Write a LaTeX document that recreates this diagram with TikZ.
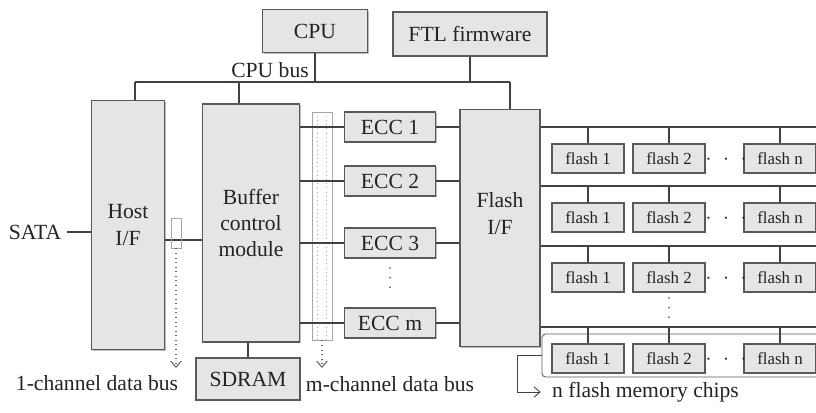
\documentclass[tikz,border=0pt]{standalone}
\usepackage{fontspec}
\setmainfont{Liberation Serif}
\usetikzlibrary{arrows.meta,shadows}
\definecolor{boxfill}{RGB}{229,229,227}
\definecolor{boxline}{RGB}{88,88,94}
\definecolor{wirec}{RGB}{64,64,74}
\definecolor{inkc}{RGB}{35,35,35}

\begin{document}
\begin{tikzpicture}[x=0.02cm, y=-0.02cm, text=inkc,
    every node/.style={font=\fontsize{12.3}{15}\selectfont},
    blk/.style={draw=boxline, fill=boxfill, line width=0.8pt, align=center, inner sep=1pt,
      drop shadow={shadow xshift=0.8pt, shadow yshift=-0.8pt, fill=boxline!80}},
    chip/.style={blk, minimum width=1.44cm, minimum height=0.58cm, font=\fontsize{9.6}{11}\selectfont},
    ecc/.style={blk, minimum width=1.82cm, minimum height=0.6cm},
    wire/.style={draw=wirec, line width=0.75pt},
    vdot/.style={draw=wirec, line width=1pt, line cap=round, dash pattern=on 0pt off 5.5pt},
    busbox/.style={draw=gray!70, line width=0.5pt, inner sep=0pt},
    dotarrow/.style={draw=gray!80!black, dotted, line width=0.6pt, -{Straight Barb[length=3.5pt, width=6pt]}}]
  \useasboundingbox (0,0) rectangle (816,413);

  % top row and CPU bus
  \node[blk, minimum width=2.1cm, minimum height=0.86cm] (cpu) at (315,31) {CPU};
  \node[blk, minimum width=3.08cm, minimum height=0.88cm] (ftl) at (470,34) {FTL firmware};
  \coordinate (busL) at (135,82);
  \coordinate (busM) at (239,82);
  \coordinate (busR) at (510,82);
  \draw[wire] (busL) -- (busR);
  \draw[wire] (cpu.south) -- (cpu.south |- busL);
  \draw[wire] (ftl.south) -- (ftl.south |- busL);
  \node (cpubus) at (270,70) {CPU bus};

  % controller blocks
  \node[blk, minimum width=1.46cm, minimum height=4.98cm] (host) at (128,225) {Host\\I/F};
  \node[blk, minimum width=1.94cm, minimum height=4.76cm] (buf) at (251,223) {Buffer\\control\\module};
  \node[blk, minimum width=1.6cm, minimum height=4.74cm] (flashif) at (500,228) {Flash\\I/F\\[1.5pt]};
  \node[blk, minimum width=2.08cm, minimum height=0.84cm] (sdram) at (248,379) {SDRAM};
  \draw[wire] (busL) -- (busL |- host.north);
  \draw[wire] (busM) -- (busM |- buf.north);
  \draw[wire] (busR) -- (busR |- flashif.north);
  \draw[wire] (sdram.north) -- (sdram.north |- buf.south);

  \node (sata) at (35,232) {SATA};
  \draw[wire] (sata.east) -- (sata.east -| host.west);
  \draw[wire] (host.east |- 0,240) -- (buf.west |- 0,240);

  % data buses
  \node[busbox, minimum width=0.2cm, minimum height=0.6cm] (onech) at (176,233) {};
  \coordinate (onetip) at (176,368);
  \draw[dotarrow] (onech.south) -- (onetip);
  \node (onelab) at (97,383) {1-channel data bus};

  \node[busbox, minimum width=0.4cm, minimum height=4.56cm] (mch) at (322,226) {};
  \draw[gray!70, dotted] ([xshift=-2.5pt]mch.north) -- ([xshift=-2.5pt]mch.south);
  \draw[gray!70, dotted] ([xshift=2.5pt]mch.north) -- ([xshift=2.5pt]mch.south);
  \coordinate (mtip) at (322,368);
  \draw[dotarrow] (mch.south) -- (mtip);
  \node (mlab) at (390,384) {m-channel data bus};

  % ECC engines
  \foreach \n/\y in {1/127, 2/181, 3/243, m/323} {
    \node[ecc] (ecc\n) at (390,\y) {ECC \n};
    \draw[wire] (buf.east |- ecc\n.west) -- (ecc\n.west);
    \draw[wire] (ecc\n.east) -- (flashif.west |- ecc\n.east);
  }
  \draw[vdot] (390,268) -- (390,296);

  % flash channels
  \foreach \r/\y in {1/127, 2/186, 3/246, 4/327} {
    \coordinate (bus\r) at (816,\y);
    \draw[wire] (flashif.east |- bus\r) -- (bus\r);
    \foreach \c/\x/\t in {a/588/1, b/669/2, n/780/n} {
      \node[chip] (f\r\c) at (\x,\y+31.5) {flash \t};
      \draw[wire] (f\r\c.north) -- (f\r\c.north |- bus\r);
    }
    \node (dots\r) at (726,\y+33) {$\cdot\,\,\cdot\,\,\cdot$};
  }
  \draw[vdot] (669,298) -- (669,324);

  % n flash memory chips
  \draw[boxline, line width=0.5pt, rounded corners=2pt] (816,334) -- (542,334) -- (542,377) -- (816,377);
  \coordinate (grp) at (542,355);
  \node[anchor=west] (nlab) at (546,392) {n flash memory chips};
  \draw[wire, line width=0.5pt, -{Straight Barb[length=3.5pt, width=6pt]}, shorten >=3pt]
    (grp) -- (517,355) -- (517,392) -- (nlab.west);
\end{tikzpicture}
\end{document}
